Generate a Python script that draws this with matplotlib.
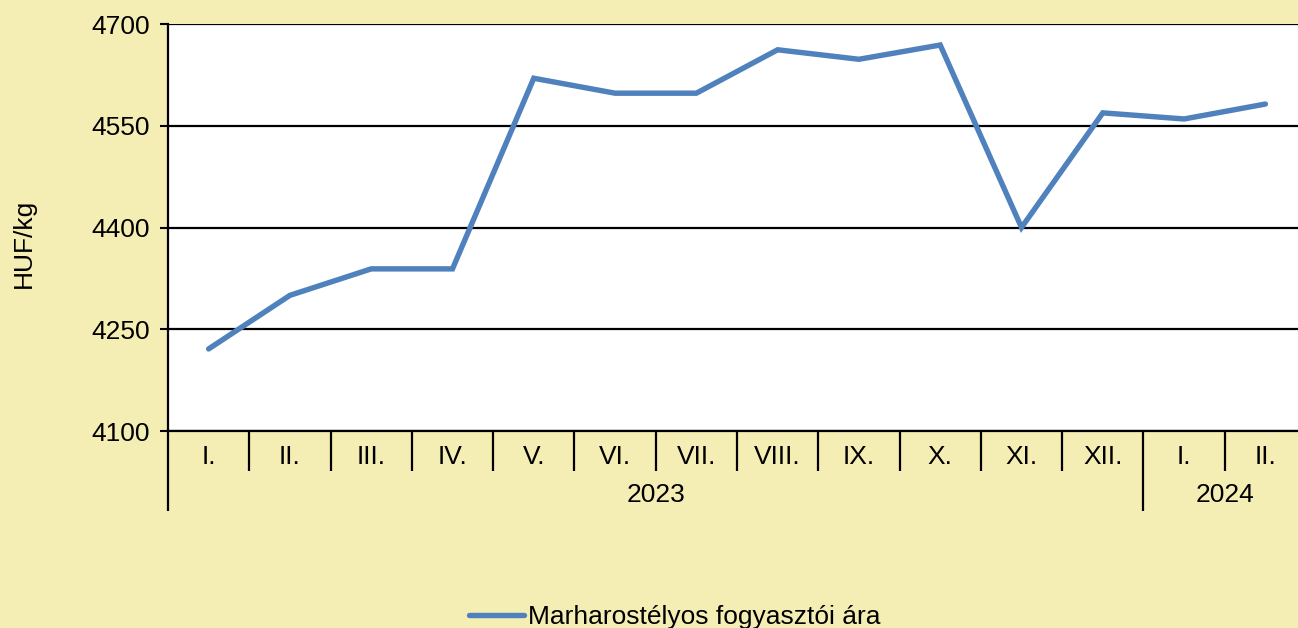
import matplotlib
matplotlib.use("Agg")
import matplotlib.pyplot as plt
from matplotlib.lines import Line2D

plt.rcParams['font.family'] = ['Liberation Sans', 'DejaVu Sans']

months = ["I.", "II.", "III.", "IV.", "V.", "VI.", "VII.", "VIII.", "IX.", "X.", "XI.", "XII.", "I.", "II."]
years = ["2023", "2024"]
year_counts = [12, 2]
prices = [4221, 4300, 4339, 4339, 4620, 4598, 4598, 4662, 4648, 4669, 4400, 4569, 4560, 4582]
series_name = "Marharostélyos fogyasztói ára"
yticks = [4100, 4250, 4400, 4550, 4700]

BG = "#F5EEB4"
LINE = "#4F81BD"
FS = 19

W, H = 1298, 628
fig = plt.figure(figsize=(W / 100, H / 100), dpi=100, facecolor=BG)
ax = fig.add_axes([168 / W, (H - 431) / H, (1306 - 168) / W, (431 - 24) / H])
ax.set_facecolor("white")

x = [i + 0.5 for i in range(len(prices))]
ax.plot(x, prices, color=LINE, lw=3.9, solid_capstyle='round', solid_joinstyle='miter', zorder=3)

ax.set_xlim(0, len(months))
ax.set_ylim(yticks[0], yticks[-1])
ax.set_yticks(yticks)
ax.set_yticklabels([str(v) for v in yticks], fontsize=FS)
ax.tick_params(axis='y', direction='out', length=6, width=1.5, colors='black', pad=7)
for v in yticks:
    ax.axhline(v, color='black', lw=1.6, zorder=2)

for s in ['top', 'right']:
    ax.spines[s].set_visible(False)
ax.spines['left'].set_linewidth(1.6)
ax.spines['bottom'].set_linewidth(1.6)

# x ticks: year separators (long) and month separators (short)
bounds = [0]
for c in year_counts:
    bounds.append(bounds[-1] + c)
major = bounds[:-1]
minor = [i for i in range(1, len(months)) if i not in major]
ax.set_xticks(major)
ax.set_xticks(minor, minor=True)
ax.set_xticklabels([])
ax.tick_params(axis='x', which='major', direction='out', length=80 * 0.72, width=1.6, colors='black')
ax.tick_params(axis='x', which='minor', direction='out', length=40 * 0.72, width=1.6, colors='black')

for xi, m in zip(x, months):
    ax.annotate(m, xy=(xi, 0), xycoords=('data', 'axes fraction'), xytext=(0, -26),
                textcoords='offset pixels', ha='center', va='center', fontsize=FS, annotation_clip=False)
start = 0
for yr, c in zip(years, year_counts):
    ax.annotate(yr, xy=(start + c / 2, 0), xycoords=('data', 'axes fraction'), xytext=(0, -64),
                textcoords='offset pixels', ha='center', va='center', fontsize=FS, annotation_clip=False)
    start += c

fig.text(24 / W, 1 - 243 / H, "HUF/kg", rotation=90, ha='center', va='center', fontsize=FS)

handle = Line2D([], [], color=LINE, lw=3.9, solid_capstyle='round')
fig.legend([handle], [series_name], loc='center', bbox_to_anchor=(675 / W, 1 - 617 / H),
           frameon=False, fontsize=FS, handlelength=2.1, handletextpad=0.15)

fig.savefig("out.png", dpi=100, facecolor=BG)
